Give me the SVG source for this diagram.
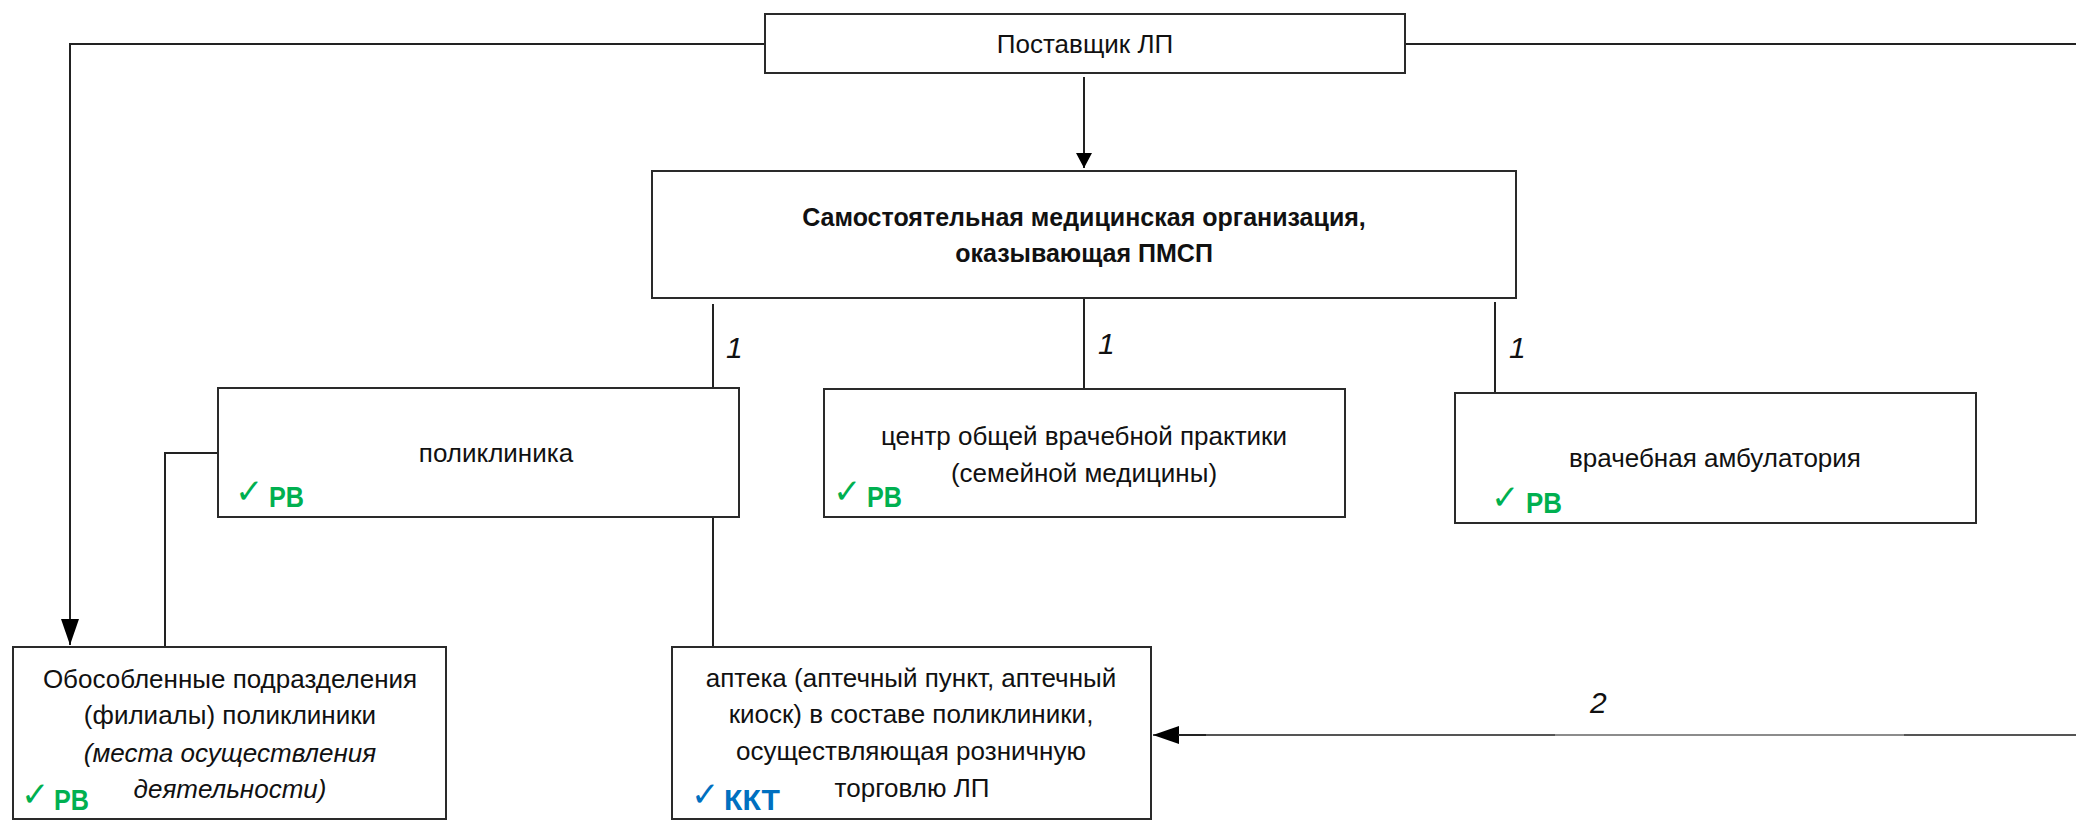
<svg xmlns="http://www.w3.org/2000/svg" width="2076" height="820" viewBox="0 0 2076 820">
<style>
.box{fill:#fff;stroke:#2a2a2a;stroke-width:2}
.ln{fill:none;stroke:#222;stroke-width:2}
.t{font-family:"Liberation Sans",Arial,sans-serif;font-size:26px;fill:#111;text-anchor:middle}
.b{font-weight:bold;font-size:25px}
.i{font-style:italic}
.num{font-family:"Liberation Sans",Arial,sans-serif;font-style:italic;font-size:30px;fill:#111}
.ck{font-family:"DejaVu Sans",sans-serif;font-size:34px}
.tag{font-family:"Liberation Sans",Arial,sans-serif;font-weight:bold;font-size:30px}
.g{fill:#00B050}
.bl{fill:#0070C0}
</style>
<defs>
<marker id="ah" viewBox="0 0 26 18" refX="26" refY="9" markerWidth="26" markerHeight="18" markerUnits="userSpaceOnUse" orient="auto">
<path d="M0,0 L26,9 L0,18 Z" fill="#000"/>
</marker>
<marker id="as" viewBox="0 0 15 16" refX="15" refY="8" markerWidth="15" markerHeight="16" markerUnits="userSpaceOnUse" orient="auto">
<path d="M0,0 L15,8 L0,16 Z" fill="#000"/>
</marker>
</defs>
<rect width="2076" height="820" fill="#fff"/>

<g id="connectors">
<path class="ln" d="M765,44 H70 V645" marker-end="url(#ah)"/>
<path class="ln" d="M1405,44 H2076"/>
<path class="ln" d="M1084,77 V168" marker-end="url(#as)"/>
<path class="ln" d="M713,304 V388"/>
<path class="ln" d="M1084,298 V389"/>
<path class="ln" d="M1495,302 V393"/>
<path class="ln" d="M218,453 H165 V647"/>
<path class="ln" d="M713,517 V647"/>
<path d="M2076,735 H1153" fill="none" stroke="#555" stroke-width="2" marker-end="url(#ah)"/>
<path d="M1178,735 H1206" fill="none" stroke="#222" stroke-width="2"/>
<path d="M1555,735 H1904" fill="none" stroke="#8c8c8c" stroke-width="2"/>
<text class="num" x="726" y="358">1</text>
<text class="num" x="1098" y="354">1</text>
<text class="num" x="1509" y="358">1</text>
<text class="num" x="1590" y="713">2</text>
</g>

<g id="supplier">
<rect class="box" x="765" y="14" width="640" height="59"/>
<text class="t" x="1085" y="53">Поставщик ЛП</text>
</g>

<g id="main">
<rect class="box" x="652" y="171" width="864" height="127"/>
<text class="t b" x="1084" y="226">Самостоятельная медицинская организация,</text>
<text class="t b" x="1084" y="262">оказывающая ПМСП</text>
</g>

<g id="polyclinic">
<rect class="box" x="218" y="388" width="521" height="129"/>
<text class="t" x="496" y="462">поликлиника</text>
<text x="235" y="503"><tspan class="ck g">✓</tspan><tspan class="tag g" x="269" dy="4" textLength="35" lengthAdjust="spacingAndGlyphs">РВ</tspan></text>
</g>

<g id="gp-center">
<rect class="box" x="824" y="389" width="521" height="128"/>
<text class="t" x="1084" y="445">центр общей врачебной практики</text>
<text class="t" x="1084" y="482">(семейной медицины)</text>
<text x="833" y="503"><tspan class="ck g">✓</tspan><tspan class="tag g" x="867" dy="4" textLength="35" lengthAdjust="spacingAndGlyphs">РВ</tspan></text>
</g>

<g id="ambulatory">
<rect class="box" x="1455" y="393" width="521" height="130"/>
<text class="t" x="1715" y="467">врачебная амбулатория</text>
<text x="1491" y="509"><tspan class="ck g">✓</tspan><tspan class="tag g" x="1526" dy="4" textLength="36" lengthAdjust="spacingAndGlyphs">РВ</tspan></text>
</g>

<g id="branches">
<rect class="box" x="13" y="647" width="433" height="172"/>
<text class="t" x="230" y="688">Обособленные подразделения</text>
<text class="t" x="230" y="724">(филиалы) поликлиники</text>
<text class="t i" x="230" y="762">(места осуществления</text>
<text class="t i" x="230" y="798">деятельности)</text>
<text x="21" y="806"><tspan class="ck g">✓</tspan><tspan class="tag g" x="54" dy="4" textLength="35" lengthAdjust="spacingAndGlyphs">РВ</tspan></text>
</g>

<g id="pharmacy">
<rect class="box" x="672" y="647" width="479" height="172"/>
<text class="t" x="911" y="687">аптека (аптечный пункт, аптечный</text>
<text class="t" x="911" y="723">киоск) в составе поликлиники,</text>
<text class="t" x="911" y="760">осуществляющая розничную</text>
<text class="t" x="912" y="797">торговлю ЛП</text>
<text x="691" y="806"><tspan class="ck bl">✓</tspan><tspan class="tag bl" x="724" dy="4" textLength="56" lengthAdjust="spacingAndGlyphs">ККТ</tspan></text>
</g>
</svg>
